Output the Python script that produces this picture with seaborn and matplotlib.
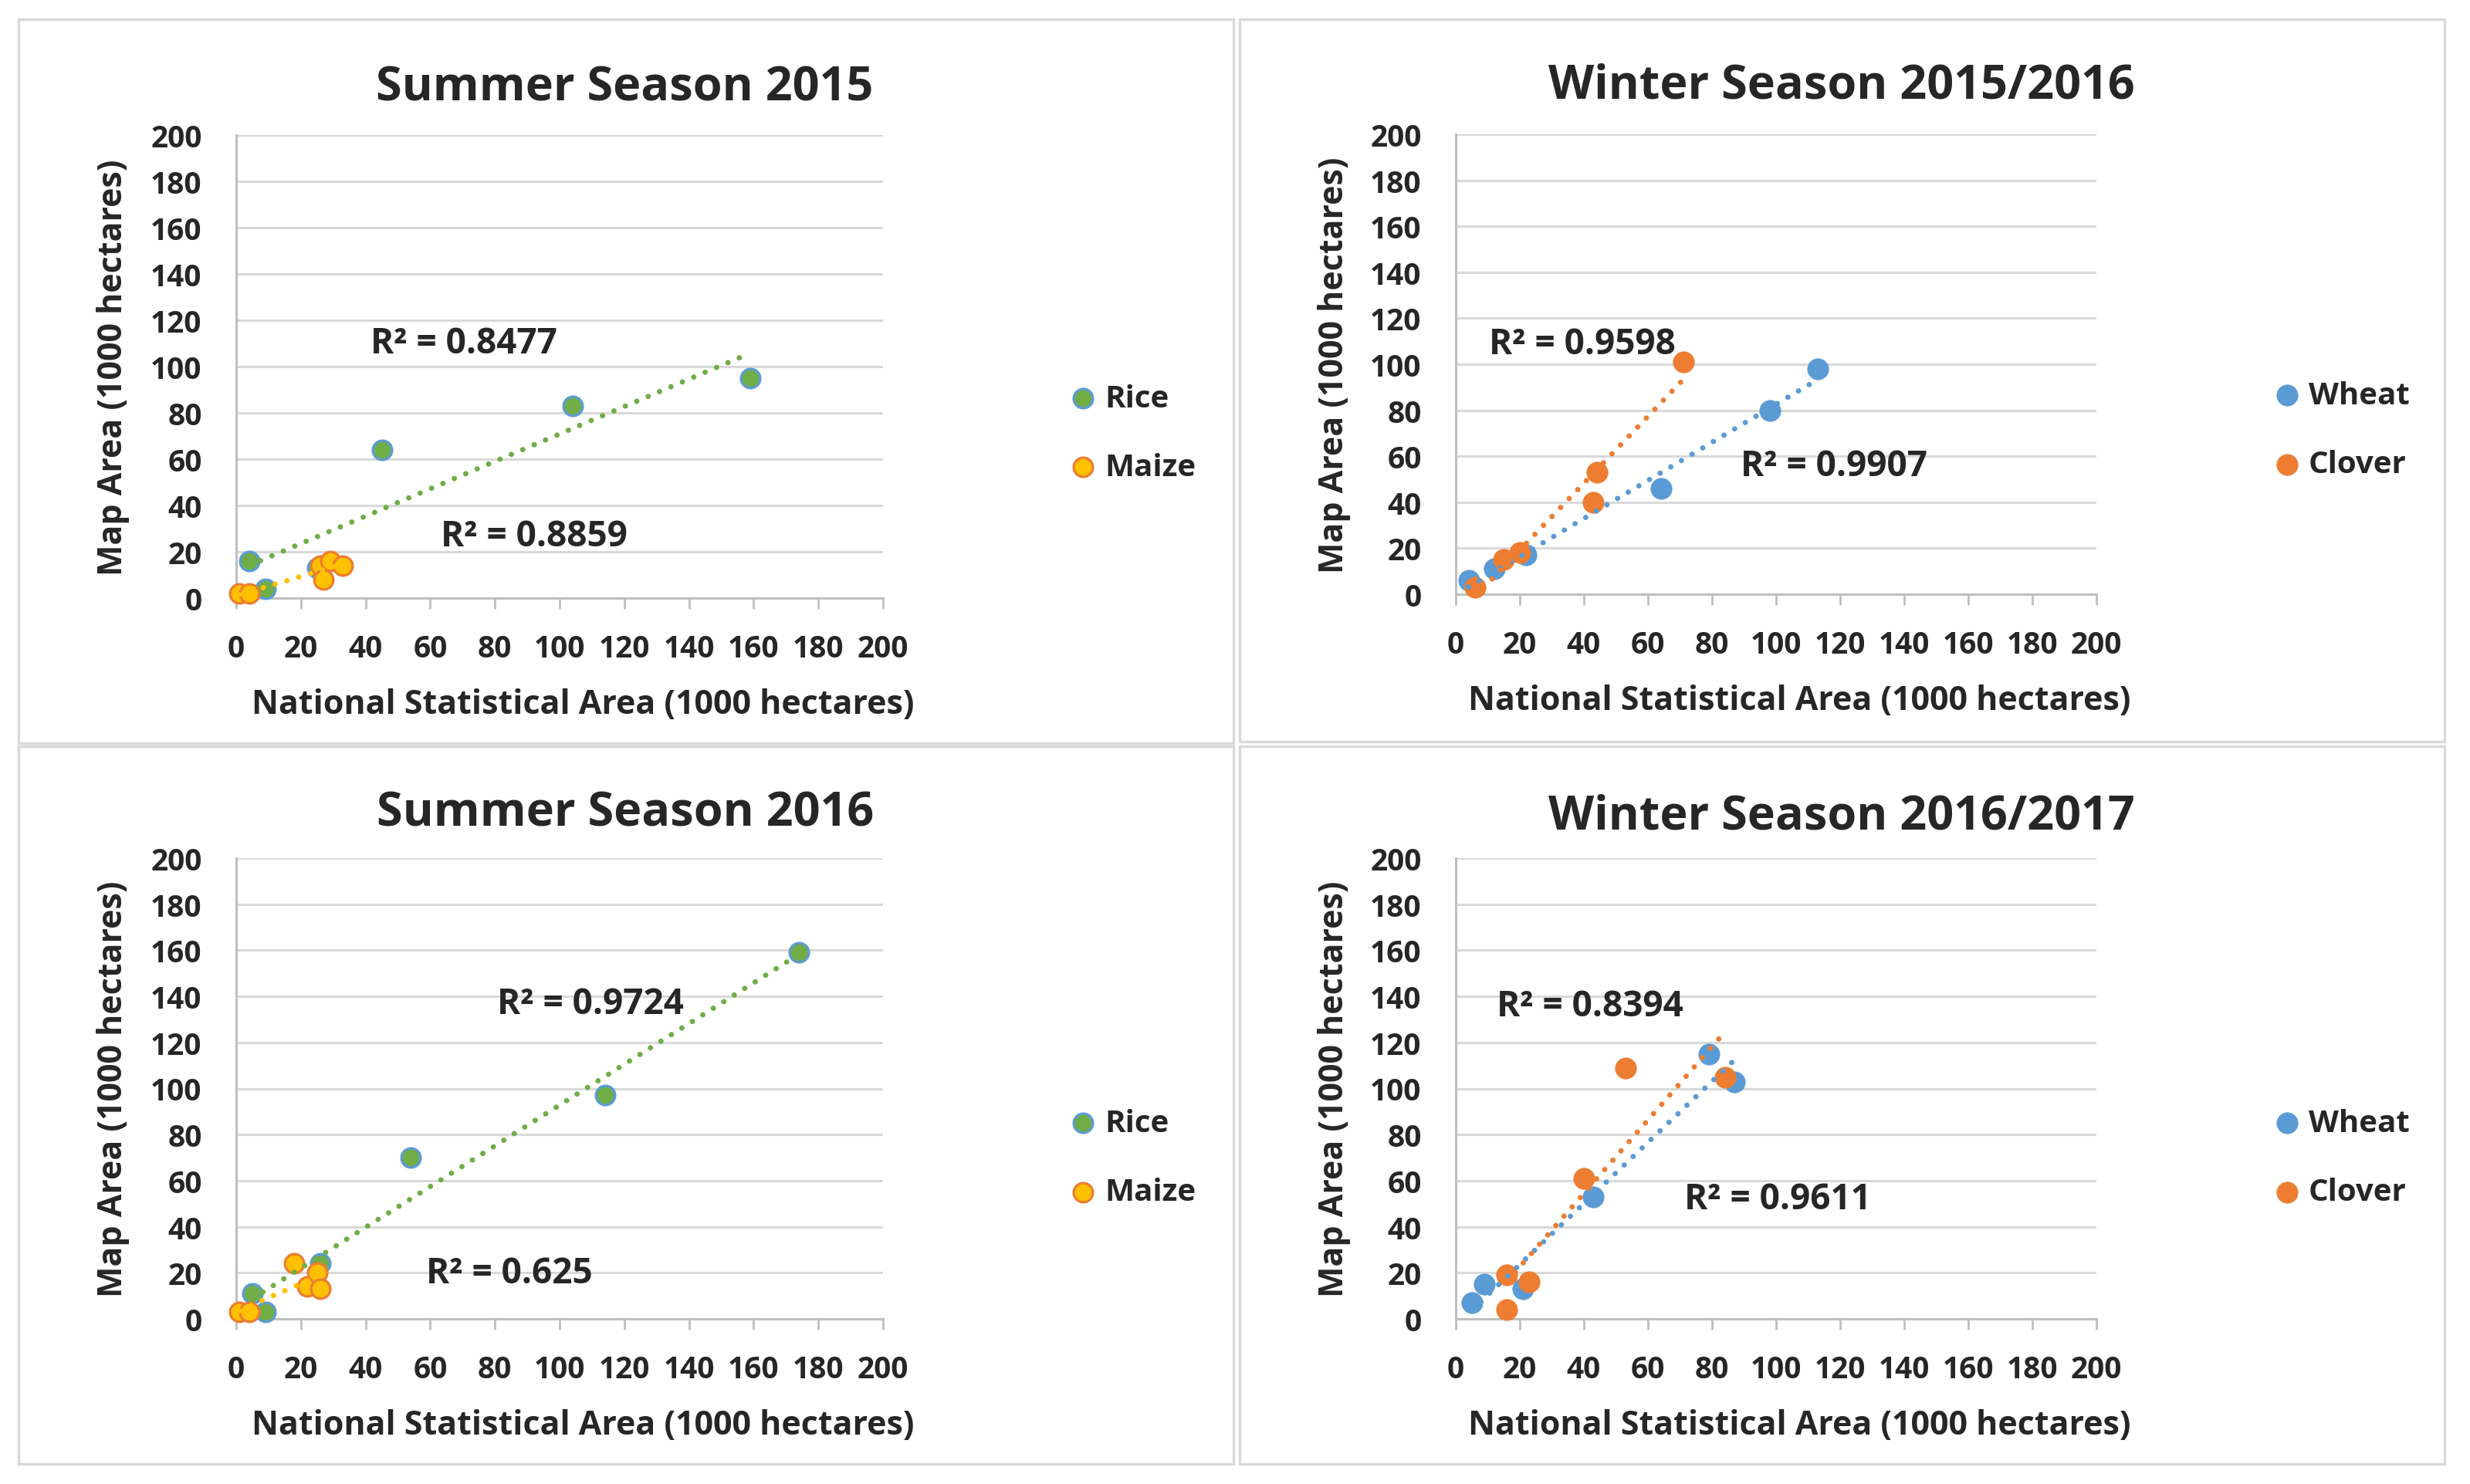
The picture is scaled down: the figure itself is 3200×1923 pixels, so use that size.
import numpy as np
import pandas as pd
import matplotlib
matplotlib.use("Agg")
import matplotlib.pyplot as plt
from matplotlib.patches import Rectangle
import seaborn as sns

# ---- data (1000 hectares) ----
rice_2015_x = [4, 9, 25, 45, 104, 159]
rice_2015_y = [16, 4, 13, 64, 83, 95]
maize_2015_x = [1, 4, 26, 27, 29, 33]
maize_2015_y = [2, 2, 14, 8, 16, 14]

wheat_1516_x = [4, 12, 22, 64, 98, 113]
wheat_1516_y = [6, 11, 17, 46, 80, 98]
clover_1516_x = [6, 15, 20, 43, 44, 71]
clover_1516_y = [3, 15, 18, 40, 53, 101]

rice_2016_x = [5, 9, 26, 54, 114, 174]
rice_2016_y = [11, 3, 24, 70, 97, 159]
maize_2016_x = [1, 4, 18, 22, 25, 26]
maize_2016_y = [3, 3, 24, 14, 20, 13]

wheat_1617_x = [5, 9, 21, 43, 79, 87]
wheat_1617_y = [7, 15, 13, 53, 115, 103]
clover_1617_x = [16, 16, 23, 40, 53, 84]
clover_1617_y = [4, 19, 16, 61, 109, 105]

titles = ["Summer Season 2015", "Winter Season 2015/2016",
          "Summer Season 2016", "Winter Season 2016/2017"]
r2_labels = [["R² = 0.8477", "R² = 0.8859"], ["R² = 0.9598", "R² = 0.9907"],
             ["R² = 0.9724", "R² = 0.625"], ["R² = 0.8394", "R² = 0.9611"]]
ticks = list(range(0, 201, 20))

GREEN, BLUE, GOLD, ORANGE = "#70AD47", "#5B9BD5", "#FFC000", "#ED7D31"
GRID = "#D9D9D9"

sns.set_style("white")
plt.rcParams["font.family"] = ["Open Sans", "DejaVu Sans"]
plt.rcParams["font.weight"] = "bold"

W, H = 3200, 1924
fig = plt.figure(figsize=(32, 19.24), dpi=100)

# panel frames (pixel boxes of the four pasted charts)
frames = [(24, 26, 1598, 964), (1606, 26, 3167, 962),
          (24, 968, 1598, 1898), (1606, 968, 3167, 1898)]
for x0, y0, x1, y1 in frames:
    fig.add_artist(Rectangle((x0 / W, 1 - y1 / H), (x1 - x0) / W, (y1 - y0) / H,
                             transform=fig.transFigure, fill=False,
                             ec=GRID, lw=2.5))

axes_pos = [(306, 776, 1144, 176), (1886, 771, 2716, 175),
            (306, 1710, 1144, 1113), (1886, 1710, 2716, 1113)]
title_pos = [(809, 115), (2386, 112), (810, 1055), (2386, 1059)]
legend_anchor = [(1.290, 0.357), (1.278, 0.357), (1.290, 0.35), (1.278, 0.35)]
r2_pos = [[(70.5, 110), (92, 27)], [(39.5, 109), (118, 56)],
          [(109.5, 137), (84.5, 20)], [(42, 136), (100.5, 52)]]

panels = [
    [("Rice", rice_2015_x, rice_2015_y, GREEN, BLUE),
     ("Maize", maize_2015_x, maize_2015_y, GOLD, ORANGE)],
    [("Wheat", wheat_1516_x, wheat_1516_y, BLUE, BLUE),
     ("Clover", clover_1516_x, clover_1516_y, ORANGE, ORANGE)],
    [("Rice", rice_2016_x, rice_2016_y, GREEN, BLUE),
     ("Maize", maize_2016_x, maize_2016_y, GOLD, ORANGE)],
    [("Wheat", wheat_1617_x, wheat_1617_y, BLUE, BLUE),
     ("Clover", clover_1617_x, clover_1617_y, ORANGE, ORANGE)],
]

for i, series in enumerate(panels):
    left, bottom, right, top = axes_pos[i]
    ax = fig.add_axes([left / W, 1 - bottom / H, (right - left) / W, (bottom - top) / H])

    # markers first, trendlines on top (as Excel draws them)
    for name, xs, ys, face, edge in series:
        df = pd.DataFrame({"x": xs, "y": ys})
        outlined = face != edge
        sns.scatterplot(data=df, x="x", y="y", ax=ax, s=320 if outlined else 390,
                        color=face, edgecolor=edge, linewidth=2.3 if outlined else 0.5,
                        label=name, zorder=3, clip_on=False)
    for name, xs, ys, face, edge in series:
        sns.regplot(x=np.array(xs), y=np.array(ys), ax=ax, scatter=False, ci=None,
                    truncate=True, color=face,
                    line_kws=dict(ls=(0, (0.01, 2.3)), lw=5,
                                  dash_capstyle="round", zorder=4))

    ax.set_xlim(0, 200)
    ax.set_ylim(0, 200)
    ax.set_xticks(ticks)
    ax.set_yticks(ticks)
    ax.grid(axis="y", color=GRID, lw=2.2)
    ax.grid(axis="x", visible=False)
    ax.set_axisbelow(True)
    for side in ["top", "right"]:
        ax.spines[side].set_visible(False)
    for side in ["left", "bottom"]:
        ax.spines[side].set_color("#BFBFBF")
        ax.spines[side].set_linewidth(2.2)
    ax.tick_params(axis="x", length=10, width=2, color="#BFBFBF", pad=23,
                   labelsize=28, direction="out", bottom=True)
    ax.tick_params(axis="y", length=0, pad=32, labelsize=28)
    for lab in ax.get_xticklabels() + ax.get_yticklabels():
        lab.set_fontweight("bold")

    ax.set_xlabel("National Statistical Area (1000 hectares)", fontsize=31,
                  fontweight="bold", va="center")
    ax.set_ylabel("Map Area (1000 hectares)", fontsize=31, fontweight="bold",
                  va="center")
    ax.xaxis.set_label_coords(0.536, -0.23)
    ax.yaxis.set_label_coords(-0.19, 0.5)

    for (tx, ty), txt in zip(r2_pos[i], r2_labels[i]):
        ax.text(tx, ty, txt, ha="center", va="center", fontsize=33,
                fontweight="bold", zorder=5)

    fig.text(title_pos[i][0] / W, 1 - title_pos[i][1] / H, titles[i],
             ha="center", va="center", fontsize=44, fontweight="bold")

    ax.legend(loc="center left", bbox_to_anchor=legend_anchor[i], frameon=False,
              handlelength=0.8, handletextpad=0.3,
              labelspacing=1.25, borderpad=0, borderaxespad=0,
              prop={"weight": "bold", "size": 29})

fig.savefig("out.png", dpi=100, facecolor="white")
